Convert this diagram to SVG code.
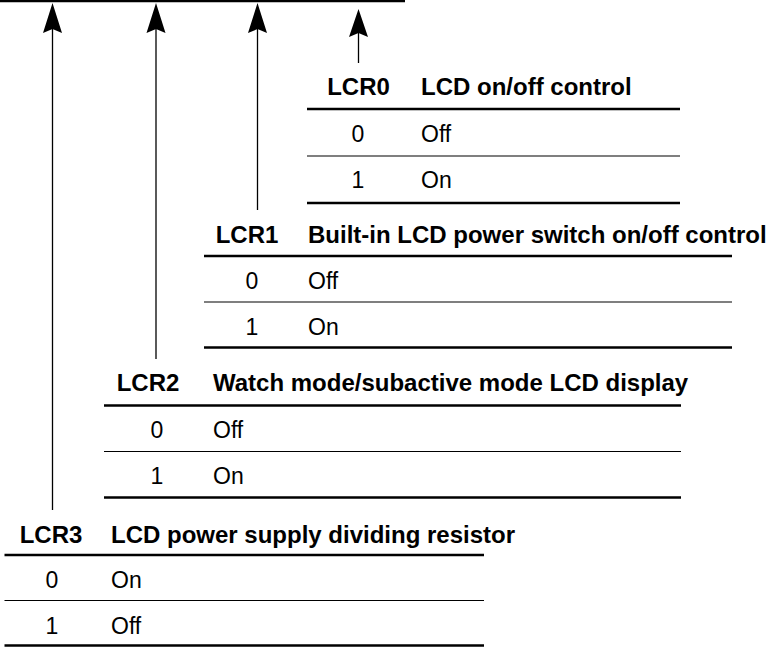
<svg xmlns="http://www.w3.org/2000/svg" width="780" height="647" viewBox="0 0 780 647">
<style>
.lbl{font-family:"Liberation Sans",Arial,sans-serif;font-weight:bold;font-size:24px;fill:#000}
.val{font-family:"Liberation Sans",Arial,sans-serif;font-size:23px;fill:#000}
.mid{text-anchor:middle}
.thick{stroke:#000;stroke-width:2.5;fill:none}
.thin{stroke:#000;stroke-width:1.2;fill:none}
.shaft{stroke:#000;stroke-width:1.3;fill:none}
.head{fill:#000;stroke:none}
</style>
<rect width="780" height="647" fill="#fff"/>
<g id="register">
<line class="thick" x1="0" y1="1" x2="405" y2="1"/>
</g>
<g id="connectors">
<line class="shaft" x1="52.5" y1="25" x2="52.5" y2="510"/>
<polygon class="head" points="52.5,3 62,33 52.5,29 43,33"/>
<line class="shaft" x1="156" y1="25" x2="156" y2="359"/>
<polygon class="head" points="156,3 165.5,33 156,29 146.5,33"/>
<line class="shaft" x1="257.5" y1="25" x2="257.5" y2="210"/>
<polygon class="head" points="257.5,3 267,33 257.5,29 248,33"/>
<line class="shaft" x1="358.5" y1="30" x2="358.5" y2="63"/>
<polygon class="head" points="358.5,9 368,37 358.5,33 349,37"/>
</g>
<g id="LCR0">
<text class="lbl mid" x="358.5" y="95">LCR0</text>
<text class="lbl" x="421" y="95">LCD on/off control</text>
<line class="thick" x1="307" y1="109" x2="680" y2="109"/>
<text class="val mid" x="358" y="142">0</text>
<text class="val" x="421" y="142">Off</text>
<line class="thin" x1="307" y1="156" x2="680" y2="156"/>
<text class="val mid" x="358" y="187.5">1</text>
<text class="val" x="421" y="187.5">On</text>
<line class="thick" x1="307" y1="203" x2="680" y2="203"/>
</g>
<g id="LCR1">
<text class="lbl mid" x="247" y="242.5">LCR1</text>
<text class="lbl" x="308" y="242.5">Built-in LCD power switch on/off control</text>
<line class="thick" x1="204" y1="256" x2="732" y2="256"/>
<text class="val mid" x="252" y="289">0</text>
<text class="val" x="308" y="289">Off</text>
<line class="thin" x1="204" y1="302" x2="732" y2="302"/>
<text class="val mid" x="252" y="334.5">1</text>
<text class="val" x="308" y="334.5">On</text>
<line class="thick" x1="204" y1="347.5" x2="732" y2="347.5"/>
</g>
<g id="LCR2">
<text class="lbl mid" x="148" y="391">LCR2</text>
<text class="lbl" x="213" y="391">Watch mode/subactive mode LCD display</text>
<line class="thick" x1="104" y1="405.5" x2="681" y2="405.5"/>
<text class="val mid" x="157" y="437.5">0</text>
<text class="val" x="213" y="437.5">Off</text>
<line class="thin" x1="104" y1="451.5" x2="681" y2="451.5"/>
<text class="val mid" x="157" y="483.5">1</text>
<text class="val" x="213" y="483.5">On</text>
<line class="thick" x1="104" y1="497.5" x2="681" y2="497.5"/>
</g>
<g id="LCR3">
<text class="lbl mid" x="51" y="542.5">LCR3</text>
<text class="lbl" x="111" y="542.5">LCD power supply dividing resistor</text>
<line class="thick" x1="4.5" y1="555" x2="484" y2="555"/>
<text class="val mid" x="52" y="588">0</text>
<text class="val" x="111" y="588">On</text>
<line class="thin" x1="4.5" y1="600.5" x2="484" y2="600.5"/>
<text class="val mid" x="52" y="633.5">1</text>
<text class="val" x="111" y="633.5">Off</text>
<line class="thick" x1="4.5" y1="645.5" x2="484" y2="645.5"/>
</g>
</svg>
